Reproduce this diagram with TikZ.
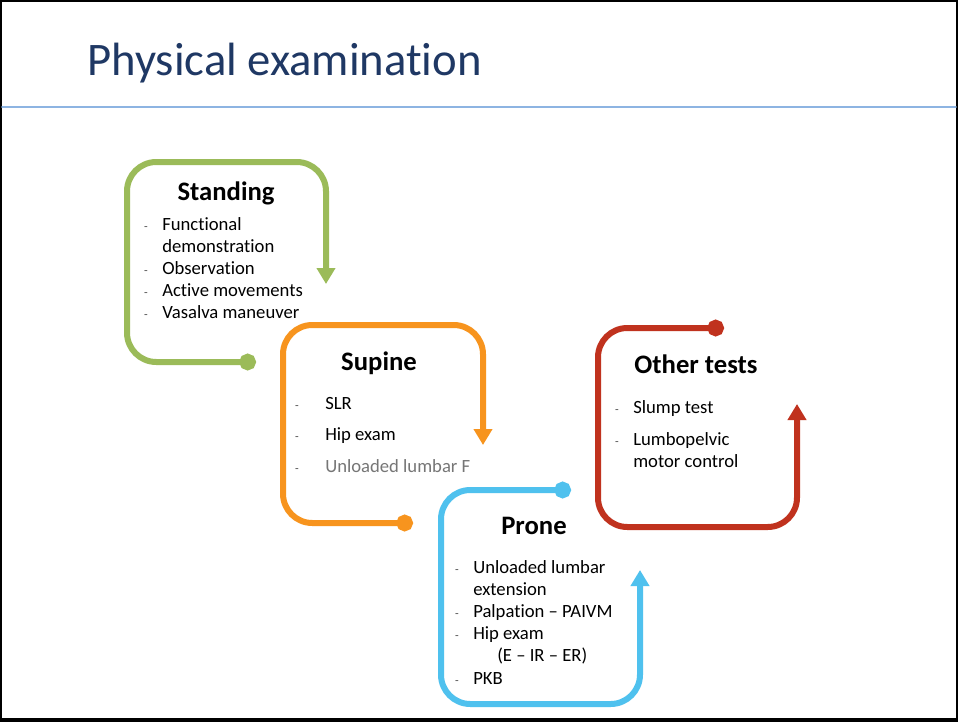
\documentclass[tikz,border=0pt]{standalone}
\usepackage{fontspec}
\setmainfont{Carlito}[Ligatures={TeX,NoCommon}]
\usetikzlibrary{arrows.meta}

\definecolor{titleblue}{RGB}{31,56,100}
\definecolor{ruleblue}{RGB}{141,180,226}
\definecolor{standgreen}{RGB}{155,187,89}
\definecolor{supineorange}{RGB}{247,148,30}
\definecolor{proneblue}{RGB}{79,193,238}
\definecolor{otherred}{RGB}{192,50,30}
\definecolor{dimgray}{RGB}{118,118,118}

\begin{document}
\begin{tikzpicture}[x=0.75pt,y=-0.75pt,line cap=round,line join=round,
  loop/.style={line width=4.5pt,rounded corners=22pt,
    {Circle[length=12.5pt]}-{Triangle[length=12pt,width=13.5pt]}},
  head/.style={anchor=base,inner sep=0pt,font=\fontsize{20}{24}\selectfont\bfseries},
  item/.style={anchor=base west,inner sep=0pt,font=\fontsize{14}{17}\selectfont},
  bulletmark/.style={anchor=base,inner sep=0pt,font=\fontsize{9}{10}\selectfont,text=black!70}]
  \useasboundingbox (0,0) rectangle (958,722);
  % slide frame
  \fill[black] (0,0) rectangle (958,722);
  \fill[white] (2,2) rectangle (956,718);
  \node[anchor=base west,inner sep=0pt,text=titleblue,font=\fontsize{35}{40}\selectfont]
    (title) at (87,75) {Physical examination};
  \draw[ruleblue,line width=1.2pt] (2,107) -- (956,107);

  % standing
  \coordinate (standIn) at (256,362);
  \coordinate (standOut) at (326,284);
  \draw[loop,standgreen] (standIn) -- (127,362) -- (127,162) -- (326,162) -- (standOut);
  \node[head] (standHead) at (226,200) {Standing};
  \node[item] (standA) at (162,230) {Functional};
  \node[item] (standB) at (162,252) {demonstration};
  \node[item] (standC) at (162,274) {Observation};
  \node[item] (standD) at (162,296) {Active movements};
  \node[item] (standE) at (162,318) {Vasalva maneuver};
  \foreach \y in {230,274,296,318}
    \node[bulletmark] (standDash\y) at (146,\y) {-};

  % supine
  \coordinate (supIn) at (413,523);
  \coordinate (supOut) at (483,445);
  \draw[loop,supineorange] (supIn) -- (283,523) -- (283,325) -- (483,325) -- (supOut);
  \node[head] (supHead) at (379,370) {Supine};
  \node[item] (supA) at (325,409) {SLR};
  \node[item] (supB) at (325,440) {Hip exam};
  \node[item,text=dimgray] (supC) at (325,472) {Unloaded lumbar F};
  \foreach \y in {409,440,472}
    \node[bulletmark] (supDash\y) at (297,\y) {-};

  % prone
  \coordinate (proIn) at (571,490);
  \coordinate (proOut) at (640,570);
  \draw[loop,proneblue] (proIn) -- (441,490) -- (441,704) -- (640,704) -- (proOut);
  \node[head] (proHead) at (534,534) {Prone};
  \node[item] (proA) at (473,573) {Unloaded lumbar};
  \node[item] (proB) at (473,595) {extension};
  \node[item] (proC) at (473,617) {Palpation – PAIVM};
  \node[item] (proD) at (473,639) {Hip exam};
  \node[item] (proE) at (497,661) {(E – IR – ER)};
  \node[item] (proF) at (473,684) {PKB};
  \foreach \y in {573,617,639,684}
    \node[bulletmark] (proDash\y) at (457,\y) {-};

  % other tests
  \coordinate (othIn) at (724,328);
  \coordinate (othOut) at (797,404);
  \draw[loop,otherred] (othIn) -- (598,328) -- (598,527) -- (797,527) -- (othOut);
  \node[head] (othHead) at (696,373) {Other tests};
  \node[item] (othA) at (633,413) {Slump test};
  \node[item] (othB) at (633,445) {Lumbopelvic};
  \node[item] (othC) at (633,467) {motor control};
  \foreach \y in {413,445}
    \node[bulletmark] (othDash\y) at (617,\y) {-};
\end{tikzpicture}
\end{document}
